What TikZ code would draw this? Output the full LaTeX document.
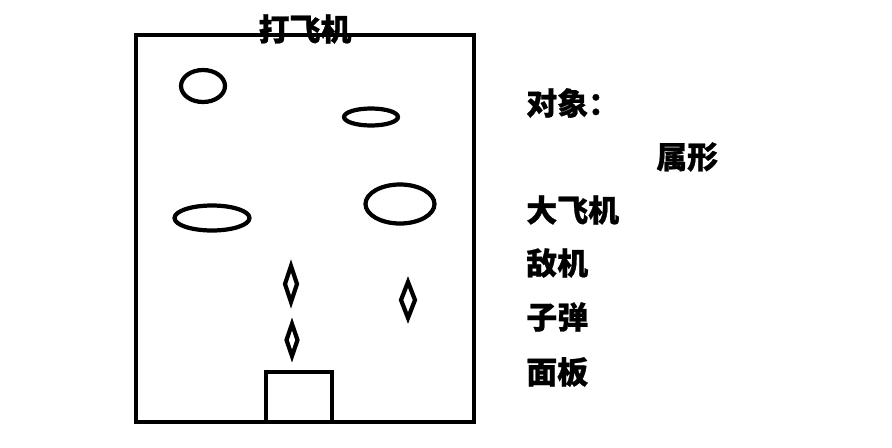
\documentclass[tikz,border=0pt]{standalone}
\usepackage{fontspec}
\newfontfamily\cjk{Noto Sans CJK SC}[BoldFeatures={FakeBold=0.8}]
\usepackage{tikz}
\usetikzlibrary{shapes.geometric, positioning}

\begin{document}
\begin{tikzpicture}[x=0.025cm, y=-0.025cm,
    stroke/.style={line width=3pt, draw=black},
    label/.style={font=\cjk\bfseries\fontsize{22}{26}\selectfont, inner sep=0pt, anchor=west}]
  \useasboundingbox (0,0) rectangle (892,447);

  % game frame
  \draw[stroke] (136,35) rectangle (474,422);
  \node[font=\cjk\bfseries\fontsize{22}{26}\selectfont, inner sep=0pt] (title) at (305,29) {打飞机};

  % planes
  \draw[stroke] (203,86) ellipse [x radius=22, y radius=16];
  \draw[stroke] (371,117) ellipse [x radius=27, y radius=8.5];
  \draw[stroke] (212,218) ellipse [x radius=37.5, y radius=12.5];
  \draw[stroke] (400,204) ellipse [x radius=34.5, y radius=19.5];

  % bullets
  \draw[stroke] (291,266) -- (297,284) -- (291,302) -- (285,284) -- cycle;
  \draw[stroke] (408,282) -- (415,300) -- (408,318) -- (401,300) -- cycle;
  \draw[stroke] (292,324) -- (297.5,340) -- (292,356) -- (286.5,340) -- cycle;

  % panel
  \draw[stroke] (266,372) rectangle (332,422);

  % objects
  \node[label] (objs) at (526,103) {对象：};
  \node[label] (attr) at (656,157) {属形};
  \node[label] (big) at (526,210) {大飞机};
  \node[label] (enemy) at (526,263) {敌机};
  \node[label] (bullet) at (526,317) {子弹};
  \node[label] (panel) at (526,372) {面板};
\end{tikzpicture}
\end{document}
